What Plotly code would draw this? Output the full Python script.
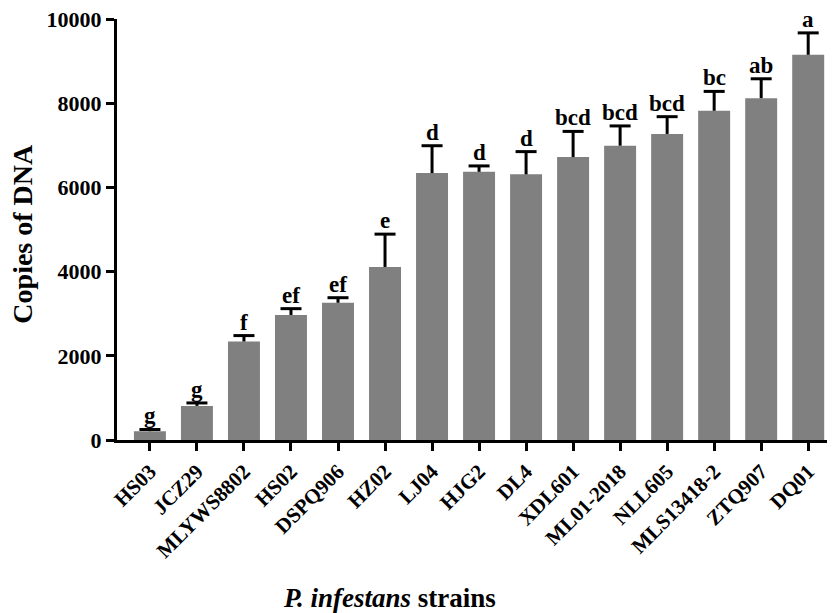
import plotly.graph_objects as go

strains = ["HS03", "JCZ29", "MLYWS8802", "HS02", "DSPQ906", "HZ02", "LJ04", "HJG2",
           "DL4", "XDL601", "ML01-2018", "NLL605", "MLS13418-2", "ZTQ907", "DQ01"]
copies = [210, 810, 2340, 2970, 3260, 4110, 6340, 6370, 6310, 6720, 6990, 7270, 7820, 8120, 9150]
errors = [40, 70, 140, 150, 120, 780, 650, 140, 540, 610, 470, 410, 460, 460, 520]
letters = ["g", "g", "f", "ef", "ef", "e", "d", "d", "d", "bcd", "bcd", "bcd", "bc", "ab", "a"]
y_ticks = [0, 2000, 4000, 6000, 8000, 10000]

FONT = "Liberation Serif"
tops = [v + e for v, e in zip(copies, errors)]

fig = go.Figure()
fig.add_trace(go.Bar(
    x=strains, y=copies,
    marker=dict(color="#808080", line=dict(width=0)),
    width=0.68,
    error_y=dict(type="data", array=errors, symmetric=False, arrayminus=[0] * len(errors),
                 color="black", thickness=3, width=0),
))
# error bar caps (top only)
fig.add_trace(go.Scatter(
    x=strains, y=tops, mode="markers",
    marker=dict(symbol="line-ew", size=15, color="black", line=dict(color="black", width=3)),
    hoverinfo="skip",
))

for s, t, l in zip(strains, tops, letters):
    fig.add_annotation(x=s, y=t, text="<b>%s</b>" % l, showarrow=False,
                       yanchor="bottom", yshift=-1,
                       font=dict(family=FONT, size=23, color="black"))

fig.add_annotation(xref="paper", yref="paper", x=0.380, y=-0.375,
                   text="<b><i>P. infestans</i> strains</b>", showarrow=False,
                   xanchor="center", yanchor="middle",
                   font=dict(family=FONT, size=27, color="black"))
fig.add_annotation(xref="paper", yref="paper", x=-0.131, y=0.49,
                   text="<b>Copies of DNA</b>", showarrow=False, textangle=-90,
                   xanchor="center", yanchor="middle",
                   font=dict(family=FONT, size=28, color="black"))

fig.update_layout(
    width=827, height=605,
    margin=dict(l=109, r=0, t=11, b=173, autoexpand=False),
    paper_bgcolor="white", plot_bgcolor="white",
    showlegend=False,
    font=dict(family=FONT, color="black"),
)
fig.update_xaxes(
    type="category", range=[-0.7, 14.57],
    showline=True, linecolor="black", linewidth=3,
    ticks="outside", ticklen=8, tickwidth=3, tickcolor="black",
    tickangle=-45, showgrid=False, automargin=False,
    tickvals=strains, ticktext=["<b>%s</b>" % s for s in strains],
    tickfont=dict(family=FONT, size=21, color="black"),
)
fig.update_yaxes(
    range=[0, 10000], tickvals=y_ticks, ticktext=["<b>%d</b>" % v for v in y_ticks],
    showline=True, linecolor="black", linewidth=3,
    ticks="outside", ticklen=8, tickwidth=3, tickcolor="black",
    showgrid=False, zeroline=False, automargin=False,
    ticklabeloverflow="allow",
    tickfont=dict(family=FONT, size=22, color="black"),
)

fig.write_html("out.html")
